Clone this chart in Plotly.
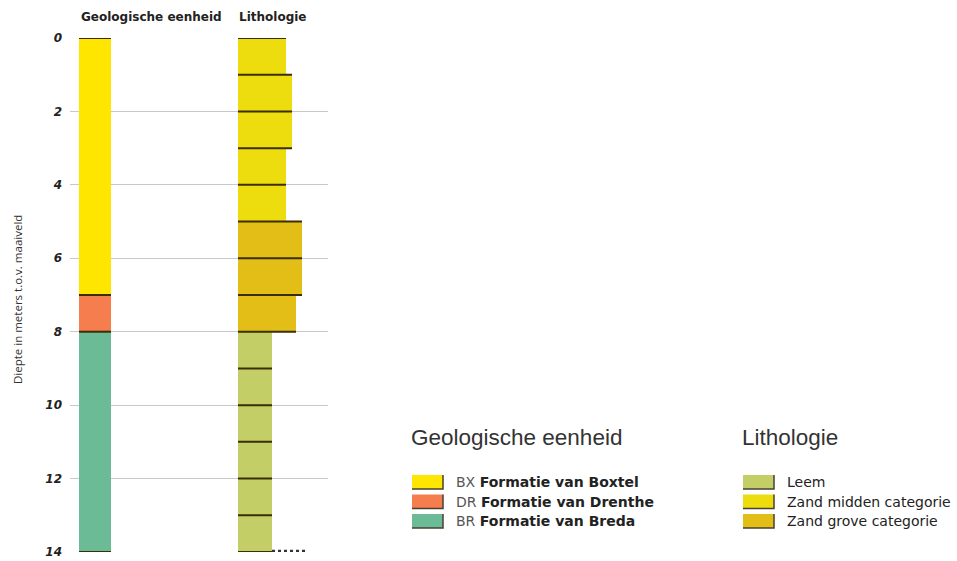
import plotly.graph_objects as go

# ---------------- data ----------------
depth_ticks = [0, 2, 4, 6, 8, 10, 12, 14]

geo_codes = ["BX", "DR", "BR"]
geo_names = ["Formatie van Boxtel", "Formatie van Drenthe", "Formatie van Breda"]
geo_colors = ["#FFE600", "#F67D4E", "#6CBB97"]
geo_top = [0, 7, 8]
geo_bottom = [7, 8, 14]

lith_classes = ["Leem", "Zand midden categorie", "Zand grove categorie"]
lith_colors = ["#C3CF66", "#EEDD0E", "#E3BE17"]
lith_top = [0, 1, 2, 3, 4, 5, 6, 7, 8, 9, 10, 11, 12, 13]
lith_bottom = [1, 2, 3, 4, 5, 6, 7, 8, 9, 10, 11, 12, 13, 14]
lith_layer_class = ["Zand midden categorie"] * 5 + ["Zand grove categorie"] * 3 + ["Leem"] * 6
lith_width = [48, 54, 54, 48, 48, 64, 64, 58, 34, 34, 34, 34, 34, 34]

# ---------------- layout constants ----------------
W, H = 957, 561
L, R, T, B = 70, 328, 38, 552            # plot area in screen pixels
GEO_X0, GEO_W = 9, 32                    # geology column (x-axis units = px)
LITH_X0 = 168                            # lithology column left edge
LINE_COL = "#3a2e05"

def px(x):
    return (x - L) / (R - L)

def py(y):
    return (B - y) / (B - T)

fig = go.Figure()

# geology column
for code, col in zip(geo_codes, geo_colors):
    idx = [i for i, c in enumerate(geo_codes) if c == code]
    fig.add_trace(go.Bar(
        orientation="h",
        y=[(geo_top[i] + geo_bottom[i]) / 2 for i in idx],
        width=[geo_bottom[i] - geo_top[i] for i in idx],
        x=[GEO_W for _ in idx],
        base=[GEO_X0 for _ in idx],
        marker=dict(color=col, line=dict(width=0)),
        showlegend=False, hoverinfo="skip",
    ))

# lithology column
for cls, col in zip(lith_classes, lith_colors):
    idx = [i for i, c in enumerate(lith_layer_class) if c == cls]
    fig.add_trace(go.Bar(
        orientation="h",
        y=[(lith_top[i] + lith_bottom[i]) / 2 for i in idx],
        width=[lith_bottom[i] - lith_top[i] for i in idx],
        x=[lith_width[i] for i in idx],
        base=[LITH_X0 for _ in idx],
        marker=dict(color=col, line=dict(width=0)),
        showlegend=False, hoverinfo="skip",
    ))

# boundary lines
bx, by = [], []
for d in sorted(set(geo_top + geo_bottom)):
    bx += [GEO_X0, GEO_X0 + GEO_W, None]
    by += [d, d, None]
for d in sorted(set(lith_top + lith_bottom)):
    ws = [lith_width[i] for i in range(len(lith_top)) if lith_top[i] == d or lith_bottom[i] == d]
    bx += [LITH_X0, LITH_X0 + max(ws), None]
    by += [d, d, None]
fig.add_trace(go.Scatter(x=bx, y=by, mode="lines",
                         line=dict(color=LINE_COL, width=2),
                         showlegend=False, hoverinfo="skip"))

# small hatch at the base of the lithology column
last = len(lith_width) - 1
fig.add_trace(go.Scatter(
    x=[LITH_X0 + lith_width[last], LITH_X0 + lith_width[last] + 34],
    y=[lith_bottom[last] - 0.03] * 2, mode="lines",
    line=dict(color="#333", width=2.5, dash="dot"),
    showlegend=False, hoverinfo="skip"))

fig.update_yaxes(
    range=[14, 0], tickvals=depth_ticks, ticktext=[str(t) for t in depth_ticks],
    showgrid=True, gridcolor="#c8c8c8", gridwidth=1, zeroline=False,
    showline=False, ticks="", ticklabelstandoff=7, automargin=False,
    tickfont=dict(family="DejaVu Sans", size=12, color="#222", weight="bold", style="italic"),
)
fig.update_xaxes(range=[0, R - L], visible=False, showgrid=False, zeroline=False, automargin=False)

annotations = []
shapes = []

# y-axis title
annotations.append(dict(text="Diepte in meters t.o.v. maaiveld", x=px(17), y=py(300),
                        xref="paper", yref="paper", textangle=-90,
                        xanchor="center", yanchor="middle", showarrow=False,
                        font=dict(family="Open Sans", size=11.5, color="#333")))

# column headers
for txt, x0 in [("Geologische eenheid", 79), ("Lithologie", 237)]:
    annotations.append(dict(text=f"<b>{txt}</b>", x=px(x0), y=py(17), xref="paper", yref="paper",
                            xanchor="left", yanchor="middle", showarrow=False,
                            font=dict(family="DejaVu Sans", size=12, color="#222")))

# legends
def legend_block(x0, title, labels, colors):
    annotations.append(dict(text=title, x=px(x0 - 3), y=py(437), xref="paper", yref="paper",
                            xanchor="left", yanchor="middle", showarrow=False,
                            font=dict(family="Liberation Sans", size=22.5, color="#333")))
    for k, (lab, col) in enumerate(zip(labels, colors)):
        yc = 482 + k * 19.5
        shapes.append(dict(type="rect", xref="paper", yref="paper",
                           x0=px(x0), x1=px(x0 + 31), y0=py(yc + 7), y1=py(yc - 7),
                           fillcolor=col, line=dict(width=0)))
        shapes.append(dict(type="path", xref="paper", yref="paper",
                           path=f"M {px(x0)} {py(yc + 7)} L {px(x0 + 31)} {py(yc + 7)} L {px(x0 + 31)} {py(yc - 7)}",
                           line=dict(color="#4a4030", width=1.5)))
        annotations.append(dict(text=lab, x=px(x0 + 42), y=py(yc), xref="paper", yref="paper",
                                xanchor="left", yanchor="middle", showarrow=False,
                                font=dict(family="DejaVu Sans", size=14, color="#222")))

legend_block(412, "Geologische eenheid",
             [f"<span style='color:#555'>{c}</span> <b>{n}</b>" for c, n in zip(geo_codes, geo_names)],
             geo_colors)
legend_block(743, "Lithologie", lith_classes, lith_colors)

fig.update_layout(
    width=W, height=H, barmode="overlay", bargap=0,
    margin=dict(l=L, r=W - R, t=T, b=H - B, pad=0),
    plot_bgcolor="white", paper_bgcolor="white",
    annotations=annotations, shapes=shapes,
    showlegend=False,
)

fig.write_html("out.html", config={"displayModeBar": False},
               post_script="document.body.style.margin='0';document.body.style.overflow='hidden';")
